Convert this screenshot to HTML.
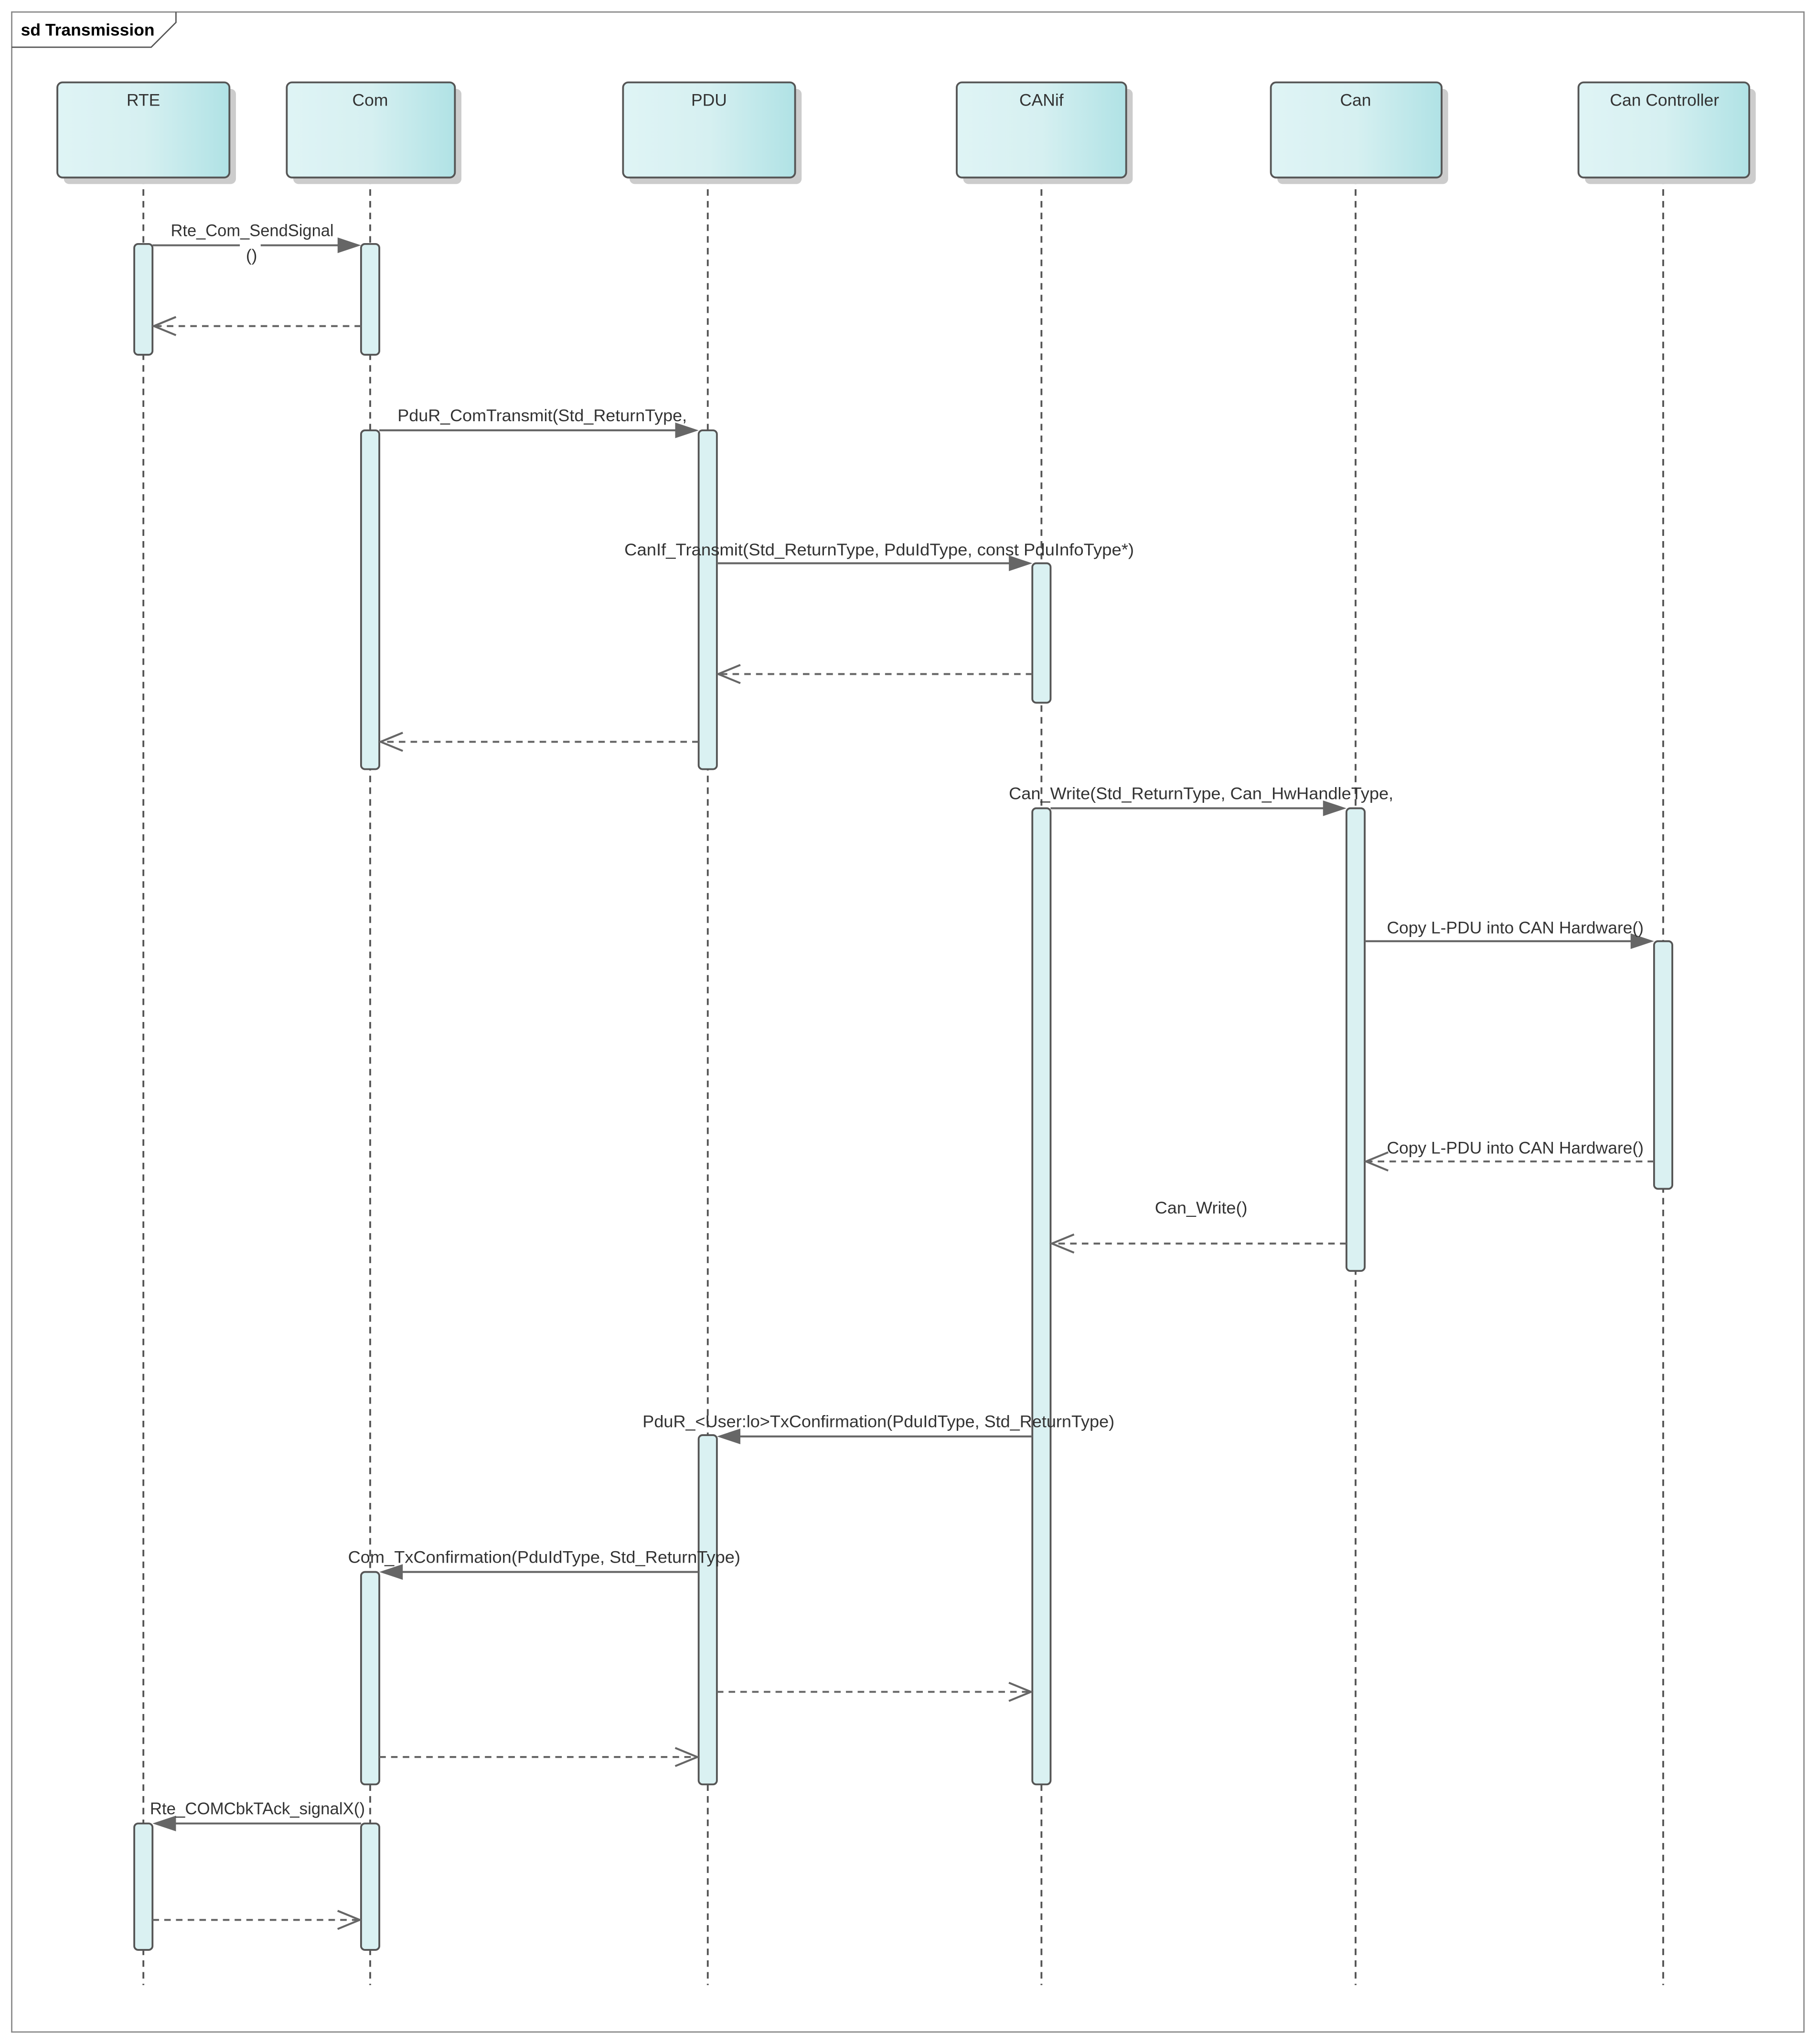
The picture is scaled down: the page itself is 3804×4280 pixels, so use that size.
<!DOCTYPE html>
<html><head><meta charset="utf-8"><style>html,body{margin:0;padding:0;background:#fff}svg{display:block}</style></head>
<body>
<svg width="3804" height="4280" viewBox="0 0 1394 1568" xmlns="http://www.w3.org/2000/svg" font-family="'Liberation Sans', sans-serif">
<defs>
<linearGradient id="g" x1="0" x2="1" y1="0" y2="0"><stop offset="0" stop-color="#dff4f5"/><stop offset="0.5" stop-color="#d6f0f1"/><stop offset="1" stop-color="#b0e2e5"/></linearGradient>
</defs>
<rect x="0" y="0" width="1394" height="1568" fill="#fff"/>
<rect x="9" y="9" width="1375" height="1550" fill="none" stroke="#888" stroke-width="1"/>
<path d="M9,36 L116,36 L135,17 L135,9" fill="none" stroke="#555" stroke-width="1"/>
<text x="16" y="27" font-size="13" font-weight="bold" fill="#000">sd Transmission</text>

<g stroke="#555" stroke-width="1.4" stroke-dasharray="5,4">
<line x1="110" y1="136" x2="110" y2="1523"/>
<line x1="284" y1="136" x2="284" y2="1523"/>
<line x1="543" y1="136" x2="543" y2="1523"/>
<line x1="799" y1="136" x2="799" y2="1523"/>
<line x1="1040" y1="136" x2="1040" y2="1523"/>
<line x1="1276" y1="136" x2="1276" y2="1523"/>
</g>

<g>
<rect x="49" y="68" width="132" height="73" rx="4" fill="#ccc"/>
<rect x="44" y="63" width="132" height="73" rx="4" fill="url(#g)" stroke="#555" stroke-width="1.4"/>
<rect x="225" y="68" width="129" height="73" rx="4" fill="#ccc"/>
<rect x="220" y="63" width="129" height="73" rx="4" fill="url(#g)" stroke="#555" stroke-width="1.4"/>
<rect x="483" y="68" width="132" height="73" rx="4" fill="#ccc"/>
<rect x="478" y="63" width="132" height="73" rx="4" fill="url(#g)" stroke="#555" stroke-width="1.4"/>
<rect x="739" y="68" width="130" height="73" rx="4" fill="#ccc"/>
<rect x="734" y="63" width="130" height="73" rx="4" fill="url(#g)" stroke="#555" stroke-width="1.4"/>
<rect x="980" y="68" width="131" height="73" rx="4" fill="#ccc"/>
<rect x="975" y="63" width="131" height="73" rx="4" fill="url(#g)" stroke="#555" stroke-width="1.4"/>
<rect x="1216" y="68" width="131" height="73" rx="4" fill="#ccc"/>
<rect x="1211" y="63" width="131" height="73" rx="4" fill="url(#g)" stroke="#555" stroke-width="1.4"/>
</g>
<g font-size="13" fill="#333" text-anchor="middle">
<text x="110" y="81">RTE</text><text x="284" y="81">Com</text><text x="544" y="81">PDU</text>
<text x="799" y="81">CANif</text><text x="1040" y="81">Can</text><text x="1277" y="81">Can Controller</text>
</g>

<g fill="#daf1f2" stroke="#555" stroke-width="1.4">
<rect x="103" y="187" width="14" height="85" rx="3"/>
<rect x="103" y="1399" width="14" height="97" rx="3"/>
<rect x="277" y="187" width="14" height="85" rx="3"/>
<rect x="277" y="330" width="14" height="260" rx="3"/>
<rect x="277" y="1206" width="14" height="163" rx="3"/>
<rect x="277" y="1399" width="14" height="97" rx="3"/>
<rect x="536" y="330" width="14" height="260" rx="3"/>
<rect x="536" y="1101" width="14" height="268" rx="3"/>
<rect x="792" y="432" width="14" height="107" rx="3"/>
<rect x="792" y="620" width="14" height="749" rx="3"/>
<rect x="1033" y="620" width="14" height="355" rx="3"/>
<rect x="1269" y="722" width="14" height="190" rx="3"/>
</g>

<g stroke="#666" stroke-width="1.5" fill="none">
<line x1="117" y1="188" x2="262" y2="188"/>
<line x1="291" y1="330" x2="521" y2="330"/>
<line x1="550" y1="432" x2="777" y2="432"/>
<line x1="806" y1="620" x2="1018" y2="620"/>
<line x1="1047" y1="722" x2="1254" y2="722"/>
<line x1="792" y1="1102" x2="565" y2="1102"/>
<line x1="536" y1="1206" x2="306" y2="1206"/>
<line x1="277" y1="1399" x2="132" y2="1399"/>
</g>
<g fill="#666">
<path d="M277,188 L259,182 L259,194 Z"/>
<path d="M536,330 L518,324 L518,336 Z"/>
<path d="M792,432 L774,426 L774,438 Z"/>
<path d="M1033,620 L1015,614 L1015,626 Z"/>
<path d="M1269,722 L1251,716 L1251,728 Z"/>
<path d="M550,1102 L568,1096 L568,1108 Z"/>
<path d="M291,1206 L309,1200 L309,1212 Z"/>
<path d="M117,1399 L135,1393 L135,1405 Z"/>
</g>
<g stroke="#666" stroke-width="1.5" fill="none" stroke-dasharray="5,4">
<line x1="277" y1="250" x2="118" y2="250"/>
<line x1="792" y1="517" x2="551" y2="517"/>
<line x1="536" y1="569" x2="292" y2="569"/>
<line x1="1269" y1="891" x2="1048" y2="891"/>
<line x1="1033" y1="954" x2="807" y2="954"/>
<line x1="550" y1="1298" x2="791" y2="1298"/>
<line x1="291" y1="1348" x2="535" y2="1348"/>
<line x1="117" y1="1473" x2="276" y2="1473"/>
</g>
<g stroke="#666" stroke-width="1.5" fill="none">
<path d="M135,243 L118,250 L135,257"/>
<path d="M568,510 L551,517 L568,524"/>
<path d="M309,562 L292,569 L309,576"/>
<path d="M1065,884 L1048,891 L1065,898"/>
<path d="M824,947 L807,954 L824,961"/>
<path d="M774,1291 L791,1298 L774,1305"/>
<path d="M518,1341 L535,1348 L518,1355"/>
<path d="M259,1466 L276,1473 L259,1480"/>
</g>
<rect x="184" y="185" width="16" height="6" fill="#fff"/>
<g font-size="13" fill="#333">
<text x="131" y="181" textLength="125" lengthAdjust="spacingAndGlyphs">Rte_Com_SendSignal</text>
<text x="193" y="200" text-anchor="middle">()</text>
<text x="305" y="323" textLength="222" lengthAdjust="spacingAndGlyphs">PduR_ComTransmit(Std_ReturnType,</text>
<text x="479" y="426" textLength="391" lengthAdjust="spacingAndGlyphs">CanIf_Transmit(Std_ReturnType, PduIdType, const PduInfoType*)</text>
<text x="774" y="613" textLength="295" lengthAdjust="spacingAndGlyphs">Can_Write(Std_ReturnType, Can_HwHandleType,</text>
<text x="1064" y="716" textLength="197" lengthAdjust="spacingAndGlyphs">Copy L-PDU into CAN Hardware()</text>
<text x="1064" y="885" textLength="197" lengthAdjust="spacingAndGlyphs">Copy L-PDU into CAN Hardware()</text>
<text x="886" y="931" textLength="71" lengthAdjust="spacingAndGlyphs">Can_Write()</text>
<text x="493" y="1095" textLength="362" lengthAdjust="spacingAndGlyphs">PduR_&lt;User:lo&gt;TxConfirmation(PduIdType, Std_ReturnType)</text>
<text x="267" y="1199" textLength="301" lengthAdjust="spacingAndGlyphs">Com_TxConfirmation(PduIdType, Std_ReturnType)</text>
<text x="115" y="1392" textLength="165" lengthAdjust="spacingAndGlyphs">Rte_COMCbkTAck_signalX()</text>
</g>
</svg>
</body></html>
